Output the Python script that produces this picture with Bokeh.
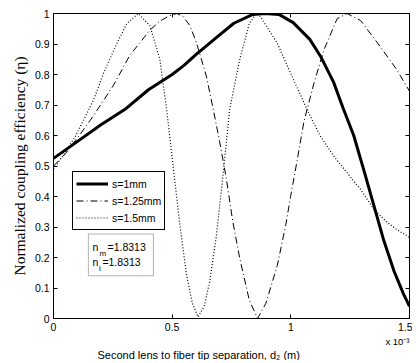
from bokeh.plotting import figure
from bokeh.models import (LinearAxis, FixedTicker, Legend, LegendItem,
                          BoxAnnotation, Label, Range1d, Title)
from bokeh.embed import file_html
from bokeh.resources import INLINE

# ---- data (d2 in units of 1e-3 m) ----
d_s1 = [0, 0.1, 0.2, 0.3, 0.4, 0.5, 0.55, 0.6, 0.7, 0.76, 0.84, 0.89, 0.95,
        1.01, 1.08, 1.125, 1.18, 1.22, 1.265, 1.31, 1.35, 1.39, 1.435, 1.475, 1.5]
eta_s1 = [0.525, 0.58, 0.635, 0.685, 0.75, 0.80, 0.83, 0.865, 0.93, 0.968, 0.997, 1.0, 0.997,
          0.97, 0.915, 0.86, 0.775, 0.69, 0.60, 0.48, 0.37, 0.26, 0.155, 0.08, 0.04]

d_s125 = [0, 0.05, 0.113, 0.155, 0.211, 0.253, 0.323, 0.365, 0.406, 0.448, 0.49, 0.52,
          0.546, 0.575, 0.602, 0.644, 0.672, 0.7, 0.728, 0.755, 0.784, 0.825, 0.86,
          0.895, 0.943, 0.978, 0.999, 1.027, 1.055, 1.097, 1.139, 1.195, 1.237, 1.294,
          1.378, 1.448, 1.5]
eta_s125 = [0.50, 0.54, 0.605, 0.65, 0.715, 0.765, 0.865, 0.905, 0.945, 0.975, 0.993, 1.0,
            0.99, 0.96, 0.905, 0.795, 0.69, 0.58, 0.46, 0.32, 0.2, 0.06, 0.0,
            0.05, 0.174, 0.304, 0.40, 0.52, 0.645, 0.77, 0.88, 0.983, 1.0, 0.977,
            0.89, 0.814, 0.745]

d_s15 = [0, 0.05, 0.092, 0.127, 0.169, 0.211, 0.267, 0.309, 0.357, 0.406, 0.448, 0.476,
         0.504, 0.532, 0.56, 0.585, 0.609, 0.635, 0.658, 0.686, 0.714, 0.742, 0.784,
         0.825, 0.855, 0.872, 0.943, 1.012, 1.069, 1.125, 1.181, 1.237, 1.294, 1.35,
         1.406, 1.45, 1.5]
eta_s15 = [0.49, 0.545, 0.597, 0.651, 0.717, 0.804, 0.902, 0.967, 1.0, 0.96, 0.85, 0.69,
           0.5, 0.31, 0.145, 0.05, 0.005, 0.04, 0.12, 0.27, 0.467, 0.684, 0.847,
           0.967, 1.0, 0.99, 0.902, 0.782, 0.684, 0.597, 0.532, 0.478, 0.423, 0.358,
           0.315, 0.29, 0.266]

series_labels = ["s=1mm", "s=1.25mm", "s=1.5mm"]
x_ticks = [0, 0.5, 1, 1.5]
x_tick_labels = ["0", "0.5", "1", "1.5"]
y_ticks = [0, 0.1, 0.2, 0.3, 0.4, 0.5, 0.6, 0.7, 0.8, 0.9, 1.0]
y_tick_labels = ["0", "0.1", "0.2", "0.3", "0.4", "0.5", "0.6", "0.7", "0.8", "0.9", "1"]

FONT = "Liberation Sans"

p = figure(width=412, height=360, output_backend="svg", toolbar_location=None,
           x_range=Range1d(0, 1.5), y_range=Range1d(0, 1),
           min_border_left=53, min_border_right=3, min_border_top=13, min_border_bottom=40)
p.xgrid.visible = False
p.ygrid.visible = False
p.outline_line_color = "black"
p.outline_line_alpha = 1
p.outline_line_width = 1
p.background_fill_color = "white"

r1 = p.line(d_s1, eta_s1, line_color="black", line_width=3)
r2 = p.line(d_s125, eta_s125, line_color="black", line_width=1, line_dash="7 3 1 3")
r3 = p.line(d_s15, eta_s15, line_color="black", line_width=1.2, line_dash="1 2")

top_ax = LinearAxis(major_label_standoff=0)
right_ax = LinearAxis(major_label_standoff=0)
p.add_layout(top_ax, "above")
p.add_layout(right_ax, "right")

for ax in p.xaxis:
    ax.ticker = FixedTicker(ticks=x_ticks)
    ax.major_label_overrides = dict(zip(x_ticks, x_tick_labels))
for ax in p.yaxis:
    ax.ticker = FixedTicker(ticks=y_ticks)
    ax.major_label_overrides = dict(zip(y_ticks, y_tick_labels))
# tick marks only on the top and right box edges
top_ax.major_label_overrides = {t: "" for t in x_ticks}
right_ax.major_label_overrides = {t: "" for t in y_ticks}

for ax in list(p.xaxis) + list(p.yaxis):
    ax.major_tick_in = 4
    ax.major_tick_out = 0
    ax.minor_tick_in = 0
    ax.minor_tick_out = 0
    ax.axis_line_color = "black"
    ax.major_tick_line_color = "black"
    ax.major_label_text_font = FONT
    ax.major_label_text_font_size = "10.5px"
    ax.major_label_text_font_style = "normal"
    ax.major_label_text_color = "black"

p.below[0].major_label_standoff = 4
p.left[0].major_label_standoff = 4

p.yaxis[0].axis_label = "Normalized coupling efficiency (\u03b7)"
p.yaxis[0].axis_label_text_font = "Liberation Serif"
p.yaxis[0].axis_label_text_font_size = "15.5px"
p.yaxis[0].axis_label_text_font_style = "normal"
p.yaxis[0].axis_label_text_color = "black"
p.yaxis[0].axis_label_standoff = 4

# exponent and x label (stacked below the x axis)
p.add_layout(Title(text="x 10\u207b\u00b3", align="right", standoff=0, offset=0,
                   text_font=FONT, text_font_size="9.5px", text_font_style="normal",
                   text_color="black"), "below")
p.add_layout(Title(text="Second lens to fiber tip separation, d\u2082  (m)", align="left",
                   standoff=0, offset=44, text_font=FONT, text_font_size="11px",
                   text_font_style="normal", text_color="black"), "below")

legend = Legend(items=[LegendItem(label=series_labels[0], renderers=[r1]),
                       LegendItem(label=series_labels[1], renderers=[r2]),
                       LegendItem(label=series_labels[2], renderers=[r3])],
                location=(19, 88))
legend.border_line_color = "black"
legend.border_line_width = 1
legend.border_line_alpha = 1
legend.background_fill_color = "white"
legend.background_fill_alpha = 1
legend.label_text_font = FONT
legend.label_text_font_size = "10.5px"
legend.label_text_color = "black"
legend.glyph_width = 32
legend.glyph_height = 17
legend.label_height = 17
legend.label_standoff = 4
legend.spacing = 0
legend.padding = 3
legend.margin = 0
p.add_layout(legend)

# refractive-index box
p.add_layout(BoxAnnotation(left=0.147, right=0.421, bottom=0.14, top=0.277,
                           fill_color="white", fill_alpha=1, line_color="black", line_width=1))
p.add_layout(Label(x=0.164, y=0.2345, text="n", text_font=FONT, text_font_size="10.5px",
                   text_color="black", text_baseline="middle"))
p.add_layout(Label(x=0.194, y=0.212, text="m", text_font=FONT, text_font_size="8px",
                   text_color="black", text_baseline="middle"))
p.add_layout(Label(x=0.2275, y=0.2345, text="=1.8313", text_font=FONT, text_font_size="10.5px",
                   text_color="black", text_baseline="middle"))
p.add_layout(Label(x=0.164, y=0.186, text="n", text_font=FONT, text_font_size="10.5px",
                   text_color="black", text_baseline="middle"))
p.add_layout(Label(x=0.192, y=0.163, text="i", text_font=FONT, text_font_size="8px",
                   text_color="black", text_baseline="middle"))
p.add_layout(Label(x=0.206, y=0.186, text="=1.8313", text_font=FONT, text_font_size="10.5px",
                   text_color="black", text_baseline="middle"))

open("out.html", "w").write(file_html(p, INLINE))
